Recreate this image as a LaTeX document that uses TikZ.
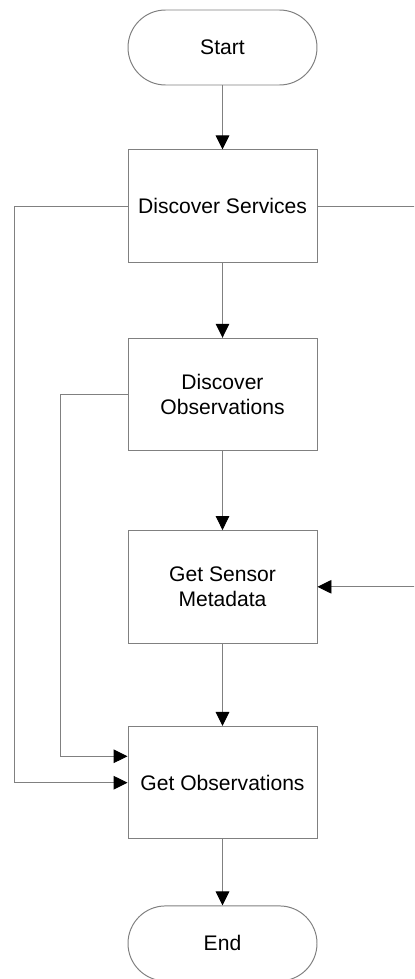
\documentclass[tikz,border=0pt]{standalone}
\usepackage{fontspec}
\setmainfont{Liberation Sans}
\usetikzlibrary{positioning, arrows.meta}
\definecolor{edgegray}{HTML}{808080}
\tikzset{
  fnode/.style={draw=edgegray, line width=0.7pt, align=center, font=\fontsize{15}{18}\selectfont, minimum width=4.725cm, inner sep=0pt},
  proc/.style={fnode, minimum height=2.8125cm},
  term/.style={fnode, minimum height=1.875cm, rounded corners=0.9375cm},
  arr/.style={draw=edgegray, line width=0.7pt, -{Triangle[length=3.5mm, width=3.4mm, color=black]}},
  link/.style={draw=edgegray, line width=0.7pt},
}
\begin{document}
\begin{tikzpicture}
\useasboundingbox (0,0) rectangle (10.35,-24.475);
\clip (0,0) rectangle (10.35,-24.475);
\node[term] (start) at (5.5625,-1.1875) {Start};
\node[proc, below=1.6cm of start] (dserv) {Discover Services};
\node[proc, below=1.87cm of dserv] (dobs) {Discover\\Observations};
\node[proc, below=1.97cm of dobs] (meta) {Get Sensor\\Metadata};
\node[proc, below=2.06cm of meta] (gobs) {Get Observations};
\node[term, below=1.65cm of gobs] (end) {End};
\coordinate (outer) at (0.35,0);
\coordinate (inner) at (1.5,0);
\coordinate (lane) at (10.6,0);
\draw[arr] (start) -- (dserv);
\draw[arr] (dserv) -- (dobs);
\draw[arr] (dobs) -- (meta);
\draw[arr] (meta) -- (gobs);
\draw[arr] (gobs) -- (end);
\draw[arr] (dserv.west) -- (outer |- dserv.west) |- (gobs.west);
\draw[arr] (dobs.west) -- (inner |- dobs.west) |- ([yshift=0.66cm]gobs.west);
\draw[arr] (dserv.east) -- (lane |- dserv.east) |- (meta.east);
\end{tikzpicture}
\end{document}
